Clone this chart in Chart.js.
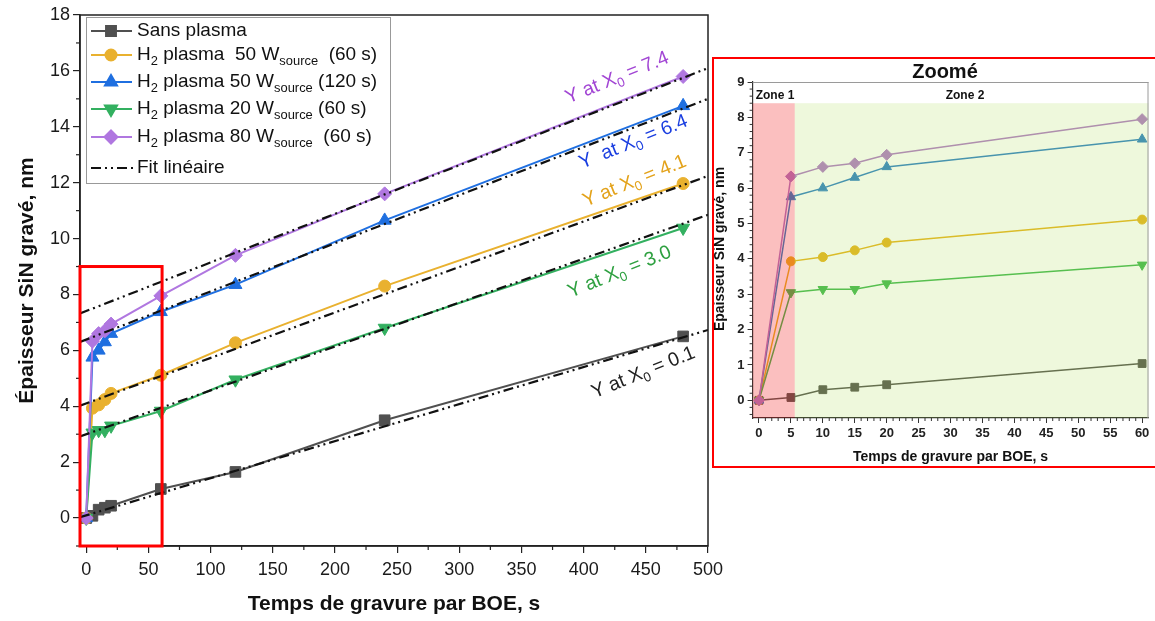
<!DOCTYPE html>
<html>
<head>
<meta charset="utf-8">
<script src="https://cdn.jsdelivr.net/npm/chart.js@4.4.0/dist/chart.umd.min.js"></script>
<style>
  body { margin: 0; background: #fff; width: 1155px; height: 621px; overflow: hidden; position: relative; }
  #main { position: absolute; left: 0; top: 0; width: 730px; height: 621px; }
  #zoomBox { position: absolute; left: 712px; top: 57px; width: 441px; height: 407px; border: 2px solid #f00; background: #fff; z-index: 2; }
  #inset { position: absolute; left: 0; top: 0; width: 441px; height: 407px; }
</style>
</head>
<body>
<div id="main"><canvas id="mainChart"></canvas></div>
<div id="zoomBox"><div id="inset"><canvas id="insetChart"></canvas></div></div>
<script>
// ---- data ----
const times = [0, 5, 10, 15, 20, 60, 120, 240, 480];
const sansPlasma = [0, 0.08, 0.30, 0.37, 0.44, 1.04, 1.65, 3.50, 6.50];
const h2_50W_60s = [0, 3.93, 4.05, 4.24, 4.46, 5.11, 6.27, 8.30, 11.97];
const h2_50W_120s = [0, 5.75, 6.00, 6.30, 6.60, 7.38, 8.35, 10.65, 14.75];
const h2_20W_60s = [0, 3.05, 3.14, 3.14, 3.30, 3.83, 4.95, 6.80, 10.38];
const h2_80W_60s = [0, 6.33, 6.60, 6.70, 6.94, 7.95, 9.40, 11.60, 15.80];

// linear fits (sans, 50W 60s, 50W 120s, 20W, 80W): ends of the drawn lines
const fitX = [-5, 500];
const fitStart = [0.03, 4.02, 6.30, 2.92, 7.32];
const fitEnd = [6.73, 12.24, 15.00, 10.85, 16.10];
const fitIntercepts = [0.1, 4.1, 6.4, 3.0, 7.4];

const xTicks = [0, 50, 100, 150, 200, 250, 300, 350, 400, 450, 500];
const yTicks = [0, 2, 4, 6, 8, 10, 12, 14, 16, 18];
const insetXTicks = [0, 5, 10, 15, 20, 25, 30, 35, 40, 45, 50, 55, 60];
const insetYTicks = [0, 1, 2, 3, 4, 5, 6, 7, 8, 9];
const insetCount = 6; // points up to 60 s

const FONT = '"Liberation Sans", Arial, sans-serif';

// series styles: main colours, inset colours, markers
const series = [
  { data: sansPlasma, color: '#505050', inset: '#5e5e58', style: 'rect', rMain: 7.5, rIn: 5.5, rot: 0,
    label: [['Sans plasma', 0]] },
  { data: h2_50W_60s, color: '#e9b12f', inset: '#e8b82a', style: 'circle', rMain: 6, rIn: 4.5, rot: 0,
    label: [['H', 0], ['2', 1], [' plasma  50 W', 0], ['source', 1], ['  (60 s)', 0]] },
  { data: h2_50W_120s, color: '#1f6fe0', inset: '#3a88c8', style: 'triangle', rMain: 7.5, rIn: 5.5, rot: 0,
    label: [['H', 0], ['2', 1], [' plasma 50 W', 0], ['source', 1], [' (120 s)', 0]] },
  { data: h2_20W_60s, color: '#33b060', inset: '#4cbc58', style: 'triangle', rMain: 7.5, rIn: 5.5, rot: 180,
    label: [['H', 0], ['2', 1], [' plasma 20 W', 0], ['source', 1], [' (60 s)', 0]] },
  { data: h2_80W_60s, color: '#b077e0', inset: '#b483c8', style: 'rectRot', rMain: 7, rIn: 5.5, rot: 0,
    label: [['H', 0], ['2', 1], [' plasma 80 W', 0], ['source', 1], ['  (60 s)', 0]] }
];

const annotColors = ['#222222', '#e3a21a', '#1a3ee0', '#2ea040', '#a246d4'];
// label anchors (data coords) for the "Y at X0" notes, same order as fits
const annotPos = [[448, 5.2], [441, 12.05], [440, 13.45], [429, 8.8], [427, 15.75]];
const annotGap = ['', '', ' ', '', ''];

function richText(ctx, parts, x, y, size, align) {
  let w = 0;
  parts.forEach(([t, sub]) => {
    ctx.font = (sub ? size * 0.68 : size) + 'px ' + FONT;
    w += ctx.measureText(t).width;
  });
  let cx = align === 'center' ? x - w / 2 : x;
  parts.forEach(([t, sub]) => {
    ctx.font = (sub ? size * 0.68 : size) + 'px ' + FONT;
    ctx.fillText(t, cx, sub ? y + size * 0.32 : y);
    cx += ctx.measureText(t).width;
  });
}

function tickLine(ctx, x1, y1, x2, y2) {
  ctx.beginPath(); ctx.moveTo(x1, y1); ctx.lineTo(x2, y2); ctx.stroke();
}

function noPad(s) {
  s.paddingLeft = 0; s.paddingRight = 0; s.paddingTop = 0; s.paddingBottom = 0;
}

// ---- main chart ----
const mainDatasets = [];
fitStart.forEach((s, i) => {
  mainDatasets.push({
    data: [{ x: fitX[0], y: s }, { x: fitX[1], y: fitEnd[i] }],
    borderColor: '#111', borderWidth: 2.2, borderDash: [10, 4, 2, 4, 2, 4],
    pointRadius: 0, fill: false
  });
});
[4, 3, 2, 1, 0].forEach(i => {
  const s = series[i];
  mainDatasets.push({
    data: times.map((t, k) => ({ x: t, y: s.data[k] })),
    borderColor: s.color, backgroundColor: s.color, borderWidth: 2,
    pointStyle: s.style, pointRadius: s.rMain, pointRotation: s.rot, pointBorderWidth: 1,
    fill: false
  });
});

const mainDecor = {
  id: 'mainDecor',
  afterDraw(chart) {
    const { ctx, chartArea: a, scales: { x, y } } = chart;
    ctx.save();
    ctx.strokeStyle = '#222';
    ctx.lineWidth = 1.5;
    ctx.strokeRect(a.left, a.top, a.right - a.left, a.bottom - a.top);
    ctx.lineWidth = 1.2;
    for (let v = 25; v < 500; v += 50) {
      const px = x.getPixelForValue(v);
      tickLine(ctx, px, a.bottom, px, a.bottom + 4);
    }
    for (let v = -1; v < 18; v += 2) {
      const py = y.getPixelForValue(v);
      tickLine(ctx, a.left - 4, py, a.left, py);
    }
    // zoomed region marker
    ctx.strokeStyle = '#ff0000';
    ctx.lineWidth = 3;
    const l = x.getPixelForValue(-5), r = x.getPixelForValue(61);
    const t = y.getPixelForValue(9), b = y.getPixelForValue(-1);
    ctx.strokeRect(l, t, r - l, b - t);

    // legend
    const lx = 86, ly = 17, lw = 304, lh = 166;
    ctx.fillStyle = '#fff';
    ctx.fillRect(lx, ly, lw, lh);
    ctx.strokeStyle = '#999';
    ctx.lineWidth = 1;
    ctx.strokeRect(lx + 0.5, ly + 0.5, lw, lh);
    const rows = [31, 55, 82, 109, 137, 168];
    ctx.textBaseline = 'middle';
    series.forEach((s, i) => {
      ctx.strokeStyle = s.color; ctx.fillStyle = s.color; ctx.lineWidth = 2;
      tickLine(ctx, 91, rows[i], 132, rows[i]);
      Chart.helpers.drawPoint(ctx, { pointStyle: s.style, radius: s.rMain - 0.5, rotation: s.rot, borderWidth: 1 }, 111, rows[i]);
      ctx.fillStyle = '#111';
      richText(ctx, s.label, 137, rows[i], 19, 'left');
    });
    ctx.strokeStyle = '#111'; ctx.lineWidth = 2.2;
    ctx.setLineDash([10, 4, 2, 4, 2, 4]);
    tickLine(ctx, 91, rows[5], 134, rows[5]);
    ctx.setLineDash([]);
    ctx.fillStyle = '#111';
    richText(ctx, [['Fit linéaire', 0]], 137, rows[5], 19, 'left');

    // intercept notes
    fitIntercepts.forEach((v, i) => {
      const px = x.getPixelForValue(annotPos[i][0]);
      const py = y.getPixelForValue(annotPos[i][1]);
      ctx.save();
      ctx.translate(px, py);
      ctx.rotate(-22 * Math.PI / 180);
      ctx.fillStyle = annotColors[i];
      richText(ctx, [['Y ' + annotGap[i] + 'at X', 0], ['0', 1], [' = ' + v.toFixed(1), 0]], 0, 0, 19.5, 'center');
      ctx.restore();
    });
    ctx.restore();
  }
};

new Chart(document.getElementById('mainChart'), {
  type: 'line',
  data: { datasets: mainDatasets },
  options: {
    responsive: true, maintainAspectRatio: false, animation: false,
    layout: { padding: { left: 12, right: 22, top: 15, bottom: 0 } },
    plugins: { legend: { display: false }, tooltip: { enabled: false } },
    scales: {
      x: {
        type: 'linear', min: -5, max: 500,
        afterBuildTicks: s => { s.ticks = xTicks.map(v => ({ value: v })); },
        afterFit: s => { s.height = 75; noPad(s); },
        ticks: { font: { size: 18, family: FONT }, color: '#1a1a1a', padding: 6, maxRotation: 0 },
        grid: { drawOnChartArea: false, drawTicks: true, tickLength: 7, color: '#222', lineWidth: 1.2 },
        border: { color: '#222', width: 1.5 },
        title: { display: true, text: 'Temps de gravure par BOE, s', color: '#111',
          font: { size: 21, weight: 'bold', family: FONT }, padding: { top: 0, bottom: 4 } }
      },
      y: {
        type: 'linear', min: -1, max: 18,
        afterBuildTicks: s => { s.ticks = yTicks.map(v => ({ value: v })); },
        afterFit: s => { s.width = 68; noPad(s); },
        ticks: { font: { size: 18, family: FONT }, color: '#1a1a1a', padding: 3 },
        grid: { drawOnChartArea: false, drawTicks: true, tickLength: 7, color: '#222', lineWidth: 1.2 },
        border: { color: '#222', width: 1.5 },
        title: { display: true, text: 'Épaisseur SiN gravé, nm', color: '#111',
          font: { size: 21, weight: 'bold', family: FONT }, padding: { top: 3, bottom: 0 } }
      }
    }
  },
  plugins: [mainDecor]
});

// ---- inset chart ----
const insetDatasets = [4, 3, 2, 1, 0].map(i => {
  const s = series[i];
  return {
    data: times.slice(0, insetCount).map((t, k) => ({ x: t, y: s.data[k] })),
    borderColor: s.inset, backgroundColor: s.inset, borderWidth: 1.5,
    pointStyle: s.style, pointRadius: s.rIn, pointRotation: s.rot, pointBorderWidth: 1,
    fill: false
  };
});

const insetDecor = {
  id: 'insetDecor',
  afterDatasetsDraw(chart) {
    const { ctx, chartArea: a, scales: { x, y } } = chart;
    ctx.save();
    const zTop = y.getPixelForValue(8.4);
    const split = x.getPixelForValue(5.6);
    ctx.fillStyle = 'rgba(240,0,0,0.25)';
    ctx.fillRect(a.left, zTop, split - a.left, a.bottom - zTop);
    ctx.fillStyle = 'rgba(150,210,40,0.16)';
    ctx.fillRect(split, zTop, a.right - split, a.bottom - zTop);
    ctx.restore();
  },
  afterDraw(chart) {
    const { ctx, chartArea: a, scales: { x, y } } = chart;
    ctx.save();
    ctx.strokeStyle = '#9a9a9a';
    ctx.lineWidth = 1;
    tickLine(ctx, a.left, a.top + 0.5, a.right, a.top + 0.5);
    tickLine(ctx, a.right - 0.5, a.top, a.right - 0.5, a.bottom);
    ctx.strokeStyle = '#333';
    for (let v = 1; v < 61; v++) {
      if (v % 5 === 0) continue;
      const px = x.getPixelForValue(v);
      tickLine(ctx, px, a.bottom, px, a.bottom + 3);
    }
    for (let k = -2; k <= 45; k++) {
      if (k % 5 === 0) continue;
      const py = y.getPixelForValue(k * 0.2);
      tickLine(ctx, a.left - 3, py, a.left, py);
    }
    ctx.fillStyle = '#111';
    ctx.textAlign = 'center';
    ctx.textBaseline = 'middle';
    ctx.font = 'bold 12px ' + FONT;
    ctx.fillText('Zone 1', 61, 37);
    ctx.fillText('Zone 2', 251, 37);
    ctx.font = 'bold 20px ' + FONT;
    ctx.fillText('Zoomé', 231, 13);
    ctx.translate(6, 190);
    ctx.rotate(-Math.PI / 2);
    ctx.font = 'bold 14px ' + FONT;
    ctx.fillText('Épaisseur SiN gravé, nm', 0, 0);
    ctx.restore();
  }
};

new Chart(document.getElementById('insetChart'), {
  type: 'line',
  data: { datasets: insetDatasets },
  options: {
    responsive: true, maintainAspectRatio: false, animation: false,
    layout: { padding: { left: 0, right: 1, top: 23, bottom: 0 } },
    plugins: { legend: { display: false }, tooltip: { enabled: false } },
    scales: {
      x: {
        type: 'linear', min: -1, max: 61,
        afterBuildTicks: s => { s.ticks = insetXTicks.map(v => ({ value: v })); },
        afterFit: s => { s.height = 48; noPad(s); },
        ticks: { font: { size: 13, weight: 'bold', family: FONT }, color: '#222', padding: 3, maxRotation: 0 },
        grid: { drawOnChartArea: false, drawTicks: true, tickLength: 5, color: '#333', lineWidth: 1 },
        border: { color: '#333', width: 1.2 },
        title: { display: true, text: 'Temps de gravure par BOE, s', color: '#111',
          font: { size: 14, weight: 'bold', family: FONT }, padding: { top: 0, bottom: 0 } }
      },
      y: {
        type: 'linear', min: -0.5, max: 9,
        afterBuildTicks: s => { s.ticks = insetYTicks.map(v => ({ value: v })); },
        afterFit: s => { s.width = 38.6; noPad(s); },
        ticks: { font: { size: 13, weight: 'bold', family: FONT }, color: '#222', padding: 3 },
        grid: { drawOnChartArea: false, drawTicks: true, tickLength: 5, color: '#333', lineWidth: 1 },
        border: { color: '#333', width: 1.2 }
      }
    }
  },
  plugins: [insetDecor]
});
</script>
</body>
</html>
